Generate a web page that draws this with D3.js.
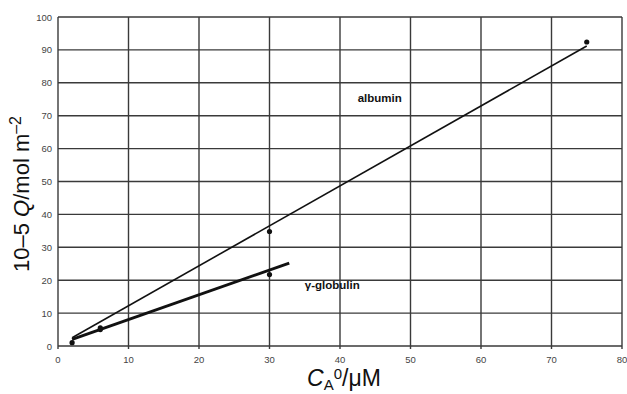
<!DOCTYPE html>
<html lang="en">
<head>
<meta charset="UTF-8">
<title>Q vs CA0</title>
<script src="https://cdn.jsdelivr.net/npm/d3@7"></script>
<style>
  body { margin: 0; background: #fff; }
  text { font-family: 'Liberation Sans', Arial, sans-serif; }
</style>
</head>
<body>
<div id="chart"></div>
<script>
// measured points
const albuminX = [2, 6, 30, 75]
const albuminY = [1, 5.5, 34.8, 92.4]
const globulinX = [6, 30]
const globulinY = [5, 21.7]
// fitted lines
const albuminFitX = [2, 75]
const albuminFitY = [2.5, 91.2]
const globulinFitX = [2, 32.8]
const globulinFitY = [2, 25.2]
const xTicks = [0, 10, 20, 30, 40, 50, 60, 70, 80]
const yTicks = [0, 10, 20, 30, 40, 50, 60, 70, 80, 90, 100]

const width = 627, height = 394
const margin = { left: 58, right: 5, top: 17, bottom: 48 }

const svg = d3.select("#chart").append("svg")
  .attr("width", width).attr("height", height)

const x = d3.scaleLinear().domain([0, 80]).range([margin.left, width - margin.right])
const y = d3.scaleLinear().domain([0, 100]).range([height - margin.bottom, margin.top])

// grid
svg.append("g").selectAll("line").data(yTicks).enter().append("line")
  .attr("x1", x(0)).attr("x2", x(80))
  .attr("y1", d => y(d)).attr("y2", d => y(d))
  .attr("stroke", "#3a3a3a").attr("stroke-width", 1.4)
svg.append("g").selectAll("line").data(xTicks).enter().append("line")
  .attr("x1", d => x(d)).attr("x2", d => x(d))
  .attr("y1", y(100)).attr("y2", y(0) + 3)
  .attr("stroke", "#3a3a3a").attr("stroke-width", 1.4)

// axes labels
svg.append("g").selectAll("text").data(yTicks).enter().append("text")
  .attr("x", x(0) - 6).attr("y", d => y(d) + 3.5)
  .attr("text-anchor", "end").attr("font-size", 9.5).attr("fill", "#444")
  .text(d => d)
svg.append("g").selectAll("text").data(xTicks).enter().append("text")
  .attr("x", d => x(d)).attr("y", y(0) + 17)
  .attr("text-anchor", "middle").attr("font-size", 9.5).attr("fill", "#444")
  .text(d => d)

// fit lines
const line = d3.line().x(d => x(d[0])).y(d => y(d[1]))
svg.append("path").datum(d3.zip(albuminFitX, albuminFitY))
  .attr("d", line).attr("fill", "none").attr("stroke", "#111").attr("stroke-width", 1.6)
svg.append("path").datum(d3.zip(globulinFitX, globulinFitY))
  .attr("d", line).attr("fill", "none").attr("stroke", "#111").attr("stroke-width", 3)

// points
svg.append("g").selectAll("circle").data(d3.zip(albuminX, albuminY).concat(d3.zip(globulinX, globulinY)))
  .enter().append("circle")
  .attr("cx", d => x(d[0])).attr("cy", d => y(d[1])).attr("r", 2.6).attr("fill", "#111")

// series labels
svg.append("text").attr("x", x(42.5)).attr("y", y(74.3))
  .attr("font-size", 11.5).attr("font-weight", "bold").attr("fill", "#111").text("albumin")
svg.append("text").attr("x", x(35)).attr("y", y(17.3))
  .attr("font-size", 11.5).attr("font-weight", "bold").attr("fill", "#111").text("γ-globulin")

// y title
const yt = svg.append("text")
  .attr("transform", "translate(29," + 194 + ") rotate(-90)")
  .attr("text-anchor", "middle").attr("font-size", 22).attr("fill", "#111")
yt.append("tspan").text("10–5 ")
yt.append("tspan").attr("font-style", "italic").text("Q")
yt.append("tspan").text("/mol m")
yt.append("tspan").attr("dy", -8).attr("font-size", 16).text("–2")

// x title
const xt = svg.append("text")
  .attr("x", 344).attr("y", 386)
  .attr("text-anchor", "middle").attr("font-size", 23).attr("fill", "#111")
xt.append("tspan").attr("font-style", "italic").text("C")
xt.append("tspan").attr("dy", 4).attr("font-size", 15).text("A")
xt.append("tspan").attr("dy", -11).attr("font-size", 15).text("0")
xt.append("tspan").attr("dy", 7).text("/μM")
</script>
</body>
</html>
